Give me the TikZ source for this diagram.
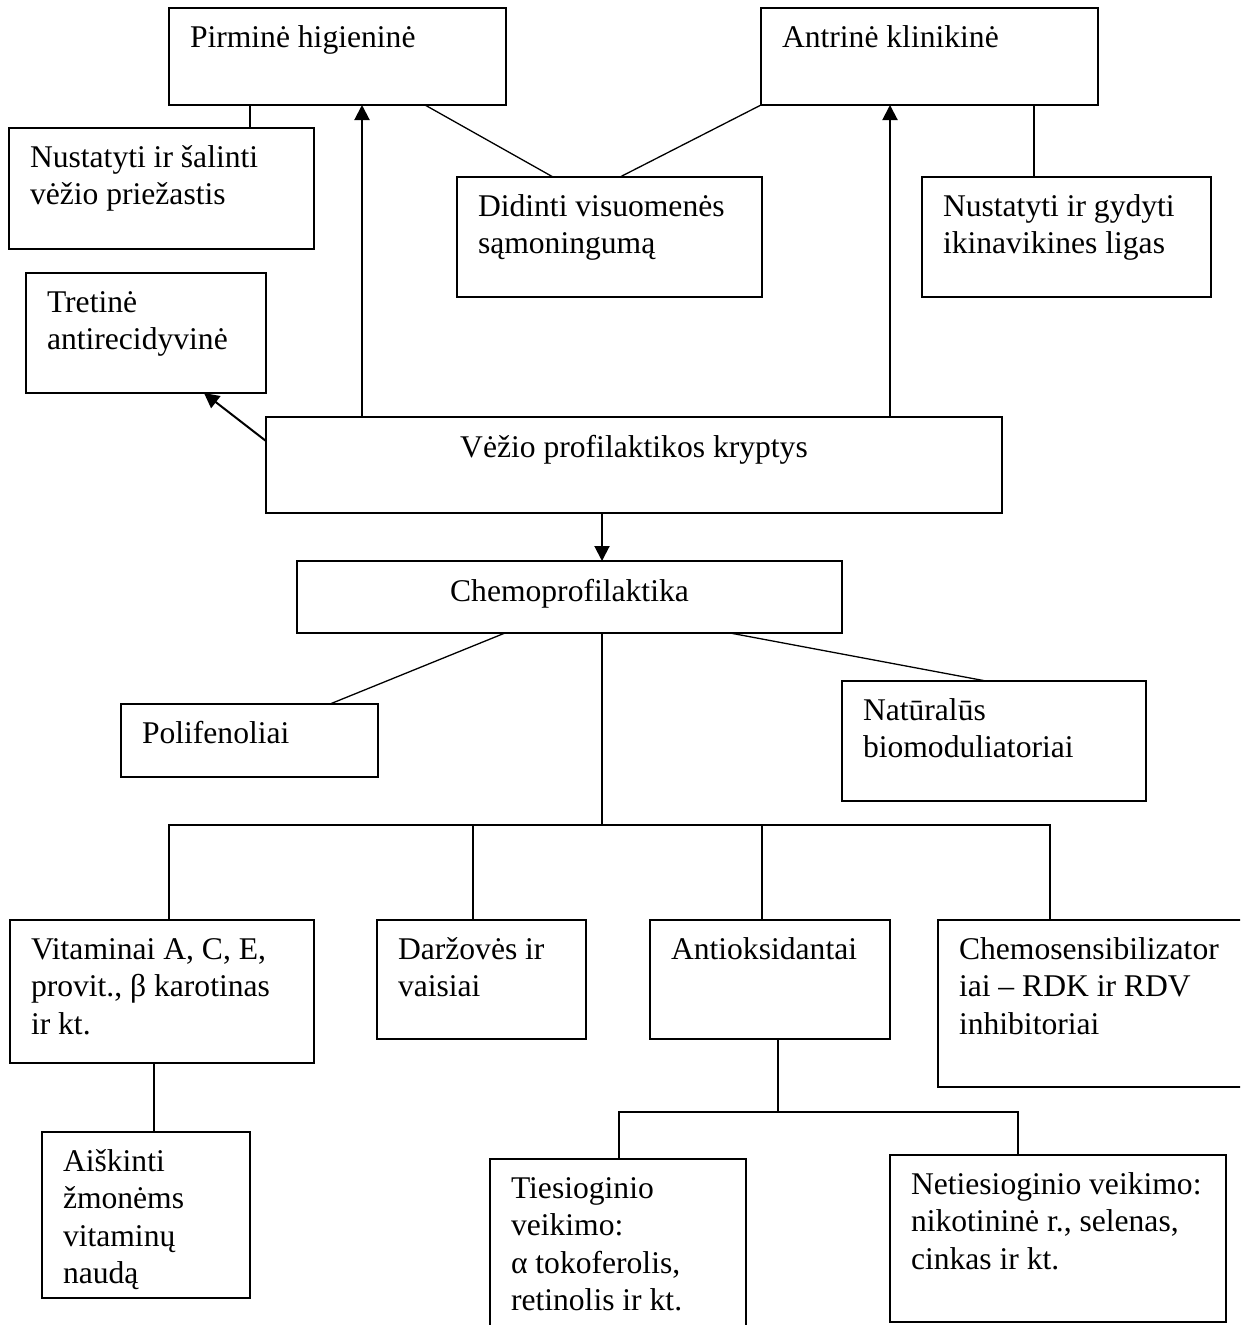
\documentclass[tikz,border=0pt]{standalone}
\usepackage{fontspec}
\setmainfont{Liberation Serif}
\usetikzlibrary{arrows.meta}
\newcommand{\bt}[3]{\parbox[t][#2pt][t]{#1pt}{\fontsize{31.6}{37.5}\selectfont\leftskip=21pt\rightskip=0pt plus 1fil\hyphenpenalty=10000\rule{0pt}{39pt}#3}}
\newcommand{\btc}[3]{\parbox[t][#2pt][t]{#1pt}{\fontsize{31.6}{37.5}\selectfont\centering\hyphenpenalty=10000\rule{0pt}{40pt}#3}}
\tikzset{
  bx/.style={draw, line width=1.3pt, inner sep=0pt, outer sep=0pt, anchor=north west},
  ln/.style={line width=1.3pt},
  arr/.style={line width=2pt, -{Triangle[length=15pt,width=15pt]}}
}
\begin{document}
\begin{tikzpicture}[x=1pt,y=-1pt]
\useasboundingbox (0,0) rectangle (1240,1325);
\clip (0,0) rectangle (1240,1325);
\node[bx] (pirm) at (169,8) {\bt{337}{97}{Pirminė higieninė}};
\node[bx] (antr) at (761,8) {\bt{337}{97}{Antrinė klinikinė}};
\node[bx] (nust1) at (9,128) {\bt{305}{121}{Nustatyti ir šalinti\\vėžio priežastis}};
\node[bx] (didin) at (457,177) {\bt{305}{120}{Didinti visuomenės\\sąmoningumą}};
\node[bx] (nust2) at (922,177) {\bt{289}{120}{Nustatyti ir gydyti\\ikinavikines ligas}};
\node[bx] (tret) at (26,273) {\bt{240}{120}{Tretinė\\antirecidyvinė}};
\node[bx] (vez) at (266,417) {\btc{736}{96}{Vėžio profilaktikos kryptys}};
\node[bx] (chemo) at (297,561) {\btc{545}{72}{Chemoprofilaktika}};
\node[bx] (polif) at (121,704) {\bt{257}{73}{Polifenoliai}};
\node[bx] (natur) at (842,681) {\bt{304}{120}{Natūralūs\\biomoduliatoriai}};
\node[bx] (vitam) at (10,920) {\bt{304}{143}{Vitaminai A, C, E,\\provit., β karotinas\\ir kt.}};
\node[bx] (darz) at (377,920) {\bt{209}{119}{Daržovės ir\\vaisiai}};
\node[bx] (antiox) at (650,920) {\bt{240}{119}{Antioksidantai}};
\node[bx] (chsens) at (938,920) {\bt{320}{167}{Chemosensibilizator\\iai -- RDK ir RDV\\inhibitoriai}};
\node[bx] (aisk) at (42,1132) {\bt{208}{166}{Aiškinti\\žmonėms\\vitaminų\\naudą}};
\node[bx] (ties) at (490,1159) {\bt{256}{180}{Tiesioginio\\veikimo:\\α tokoferolis,\\retinolis ir kt.}};
\node[bx] (netie) at (890,1155) {\bt{336}{167}{Netiesioginio veikimo:\\nikotininė r., selenas,\\cinkas ir kt.}};
% top connectors
\draw[ln] ([xshift=81]pirm.south west) -- ([xshift=241]nust1.north west);
\draw[arr] ([xshift=96]vez.north west) -- ([xshift=193]pirm.south west);
\draw[ln] ([xshift=256]pirm.south west) -- ([xshift=96]didin.north west);
\draw[ln] (antr.south west) -- ([xshift=163]didin.north west);
\draw[arr] ([xshift=624]vez.north west) -- ([xshift=129]antr.south west);
\draw[ln] ([xshift=273]antr.south west) -- ([xshift=112]nust2.north west);
\draw[arr] ([yshift=-24]vez.north west) -- ([xshift=178]tret.south west);
\draw[arr] ([xshift=336]vez.south west) -- ([xshift=305]chemo.north west);
% chemoprofilaktika branches
\draw[ln] ([xshift=208]chemo.south west) -- ([xshift=209]polif.north west);
\draw[ln] ([xshift=433]chemo.south west) -- ([xshift=144]natur.north west);
\coordinate (busC) at (602,825);
\coordinate (busL) at (169,825);
\coordinate (busR) at (1050,825);
\coordinate (busD) at (473,825);
\coordinate (busA) at (762,825);
\draw[ln] ([xshift=305]chemo.south west) -- (busC);
\draw[ln] ([xshift=159]vitam.north west) -- (busL) -- (busR) -- ([xshift=112]chsens.north west);
\draw[ln] (busD) -- ([xshift=96]darz.north west);
\draw[ln] (busA) -- ([xshift=112]antiox.north west);
\draw[ln] ([xshift=144]vitam.south west) -- ([xshift=112]aisk.north west);
% antioksidantai branches
\coordinate (bustC) at (778,1112);
\coordinate (bustL) at (619,1112);
\coordinate (bustR) at (1018,1112);
\draw[ln] ([xshift=128]antiox.south west) -- (bustC);
\draw[ln] ([xshift=129]ties.north west) -- (bustL) -- (bustR) -- ([xshift=128]netie.north west);
\end{tikzpicture}
\end{document}
